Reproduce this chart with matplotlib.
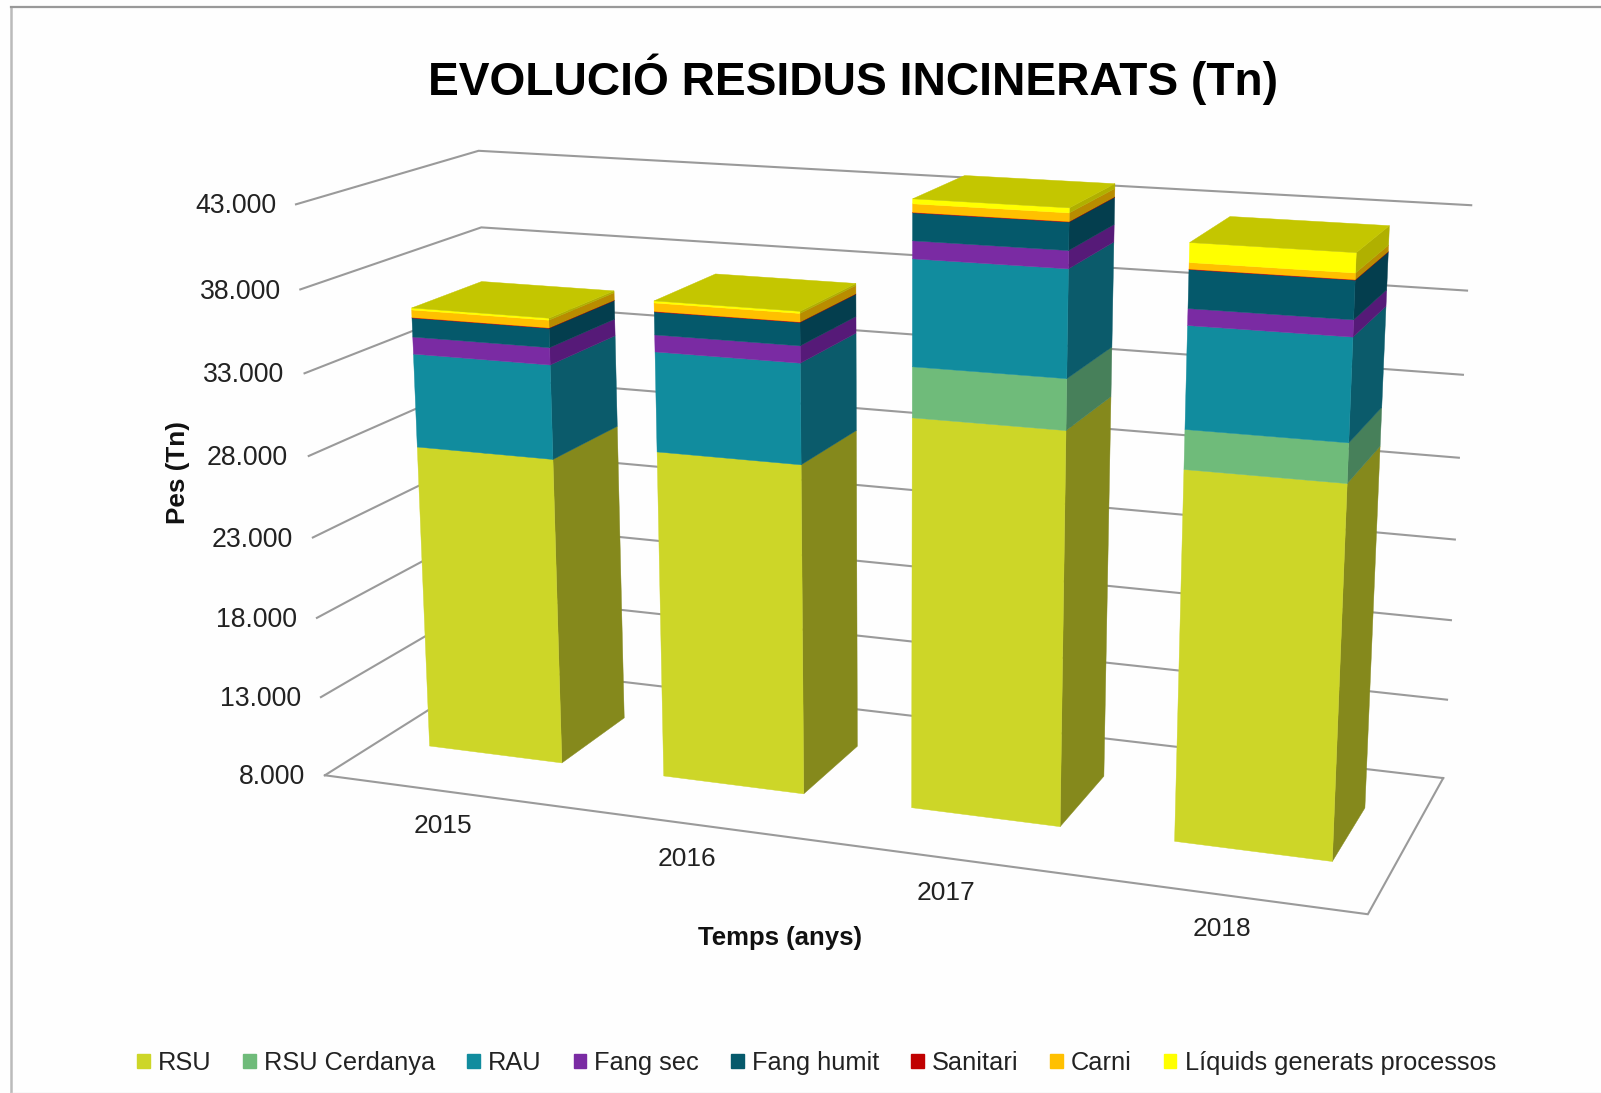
import numpy as np
import matplotlib
matplotlib.use('Agg')
import matplotlib.pyplot as plt
from matplotlib.patches import Polygon, Patch

plt.rcParams['font.family'] = ['Liberation Sans', 'DejaVu Sans']

years = ['2015', '2016', '2017', '2018']
series_names = ['RSU', 'RSU Cerdanya', 'RAU', 'Fang sec', 'Fang humit', 'Sanitari', 'Carni',
                'Líquids generats processos']
rsu = [27230, 28270, 31620, 29960]
rsu_cerdanya = [0, 0, 2975, 2280]
rau = [5780, 6030, 6210, 5850]
fang_sec = [1050, 1015, 1025, 945]
fang_humit = [1170, 1370, 1585, 2160]
sanitari = [30, 30, 30, 30]
carni = [460, 500, 480, 360]
liquids = [120, 120, 280, 1100]
series = [rsu, rsu_cerdanya, rau, fang_sec, fang_humit, sanitari, carni, liquids]

front_colors = ['#CDD628', '#6FBB7A', '#118C9E', '#7A2BA3', '#05596B', '#C00000', '#FFC000', '#FFFF00']
side_colors = ['#85891C', '#47805A', '#0B5B6B', '#561A78', '#043E4E', '#800000', '#B98C00', '#B0B000']
top_color = '#C4C600'
grid_color = '#9A9A9A'

axis_min, axis_max, axis_step = 8000, 43000, 5000
ticks = list(range(axis_min, axis_max + 1, axis_step))
tick_text = [f'{t:,}'.replace(',', '.') for t in ticks]

# Calibration of the 3D box: image pixels of the box corners
wall_front_left = [(325, 775), (321, 697), (317, 618), (313, 538), (308, 456), (304, 373), (301, 290), (296, 204)]
wall_back_right = [(1443, 778), (1447, 700), (1451, 621), (1455, 539), (1459, 457), (1463, 375), (1467, 291), (1471, 205)]

def zn(v):
    return (v - axis_min) / (axis_max - axis_min)

cube, image = [], []
for t, a, b in zip(ticks, wall_front_left, wall_back_right):
    cube += [(0, 0, zn(t)), (1, 1, zn(t))]
    image += [a, b]
cube += [(0, 1, 1), (0, 1, zn(38000)), (1, 0, 0)]
image += [(479, 151), (481, 227), (1368, 914)]
rows = []
for (x, d, z), (u, w) in zip(cube, image):
    rows.append([x, d, z, 1, 0, 0, 0, 0, -u * x, -u * d, -u * z, -u])
    rows.append([0, 0, 0, 0, x, d, z, 1, -w * x, -w * d, -w * z, -w])
M = np.linalg.svd(np.array(rows, float))[2][-1].reshape(3, 4)

def proj(x, d, v):
    p = M @ np.array([x, d, zn(v), 1.0])
    return p[0] / p[2], p[1] / p[2]

fig = plt.figure(figsize=(16.01, 10.93), dpi=100, facecolor='#FEFEFE')
ax = fig.add_axes([0, 0, 1, 1])
ax.set_xlim(0, 1601)
ax.set_ylim(1093, 0)
ax.axis('off')

# chart border
ax.plot([11, 11], [1093, 7], color='#BBBBBB', lw=1.8, zorder=1)
ax.plot([11, 1601], [7, 7], color='#999999', lw=1.6, zorder=1)
ax.plot([11, 1601], [1092.5, 1092.5], color='#E4E4E4', lw=1, zorder=1)

# walls and floor
for t in ticks:
    pts = [proj(0, 0, t), proj(0, 1, t), proj(1, 1, t)]
    ax.plot(*zip(*pts), color=grid_color, lw=1.5, solid_joinstyle='miter', zorder=2)
floor = [proj(0, 0, axis_min), proj(1, 0, axis_min), proj(1, 1, axis_min)]
ax.plot(*zip(*floor), color=grid_color, lw=1.5, solid_joinstyle='miter', zorder=2)

# stacked bars
half_width, d0, d1 = 0.0715, 0.305, 0.705
z = 3
for i in range(len(years)):
    xc = 0.125 + 0.25 * i
    xl, xr = xc - half_width, xc + half_width
    base = 0
    for values, fc, sc in zip(series, front_colors, side_colors):
        top = base + values[i]
        if values[i] > 0:
            a, b = max(base, axis_min), top
            ax.add_patch(Polygon([proj(xr, d0, a), proj(xr, d1, a), proj(xr, d1, b), proj(xr, d0, b)],
                                 closed=True, fc=sc, ec=sc, lw=0.3, zorder=z))
            ax.add_patch(Polygon([proj(xl, d0, a), proj(xr, d0, a), proj(xr, d0, b), proj(xl, d0, b)],
                                 closed=True, fc=fc, ec=fc, lw=0.3, zorder=z))
        base = top
    ax.add_patch(Polygon([proj(xl, d0, base), proj(xr, d0, base), proj(xr, d1, base), proj(xl, d1, base)],
                         closed=True, fc=top_color, ec=top_color, lw=0.3, zorder=z))
    z += 1

# texts
ax.text(853, 79, 'EVOLUCIÓ RESIDUS INCINERATS (Tn)', ha='center', va='center',
        fontsize=33.2, fontweight='bold', color='black', zorder=10)
for t, s, (u, w) in zip(ticks, tick_text, wall_front_left):
    ax.text(u - 20, w + 2, s, ha='right', va='center', fontsize=19.2, color='#222222', zorder=10)
for s, (u, w) in zip(years, [(443, 826), (687, 859), (946, 893), (1222, 929)]):
    ax.text(u, w, s, ha='center', va='center', fontsize=19, color='#222222', zorder=10)
ax.text(178, 473, 'Pes (Tn)', rotation=90, ha='center', va='center', fontsize=18.8, fontweight='bold', color='#111111')
ax.text(780, 938, 'Temps (anys)', ha='center', va='center', fontsize=18.5, fontweight='bold', color='#111111')

handles = [Patch(fc=c, ec=c, label=n) for c, n in zip(front_colors, series_names)]
ax.legend(handles=handles, ncol=8, loc='center', bbox_to_anchor=(816.5 / 1601, 1 - 1063 / 1093), frameon=False,
          fontsize=18.3, handlelength=0.5, handleheight=0.5, handletextpad=0.32, columnspacing=1.25,
          labelcolor='#222222', borderpad=0)

fig.savefig('out.png', dpi=100, facecolor=fig.get_facecolor())
